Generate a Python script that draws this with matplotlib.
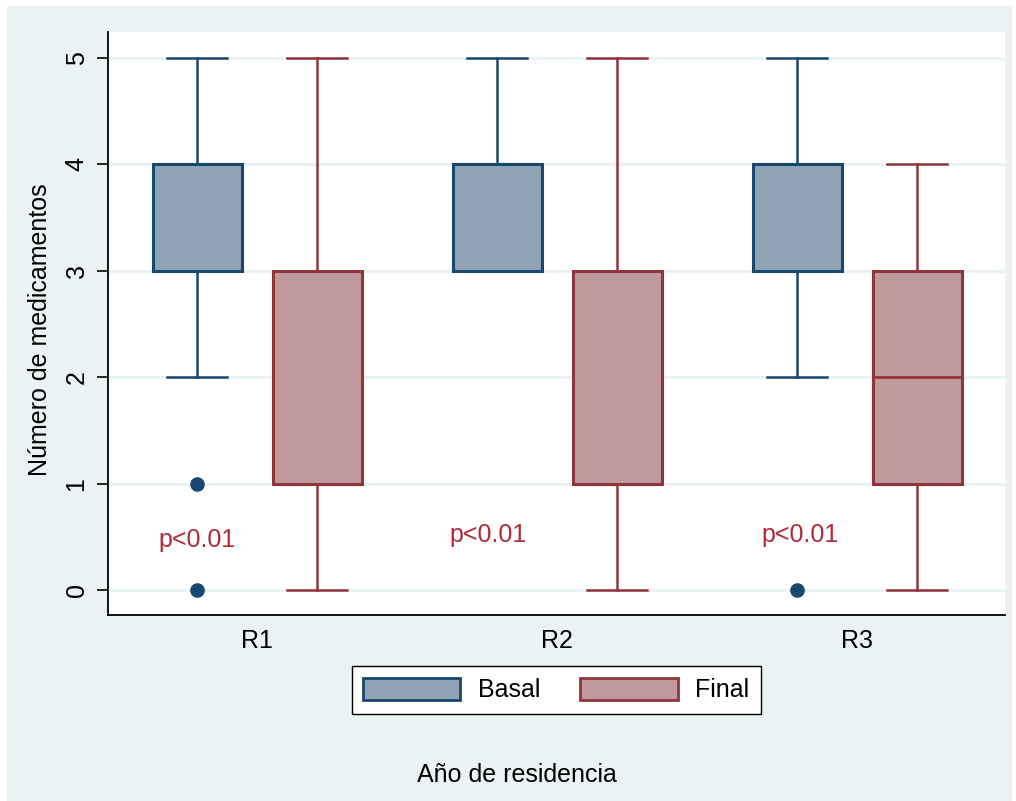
"""Boxplot: número de medicamentos por año de residencia (Basal vs Final)."""

import matplotlib
matplotlib.use('Agg')

import matplotlib.pyplot as plt
import matplotlib.patches as patches

# ── Data ──────────────────────────────────────────────────────────────────────
groups = ['R1', 'R2', 'R3']
series = ['Basal', 'Final']

basal_q1     = [3, 3, 3]
basal_med    = [4, 4, 4]
basal_q3     = [4, 4, 4]
basal_lo     = [2, 3, 2]
basal_hi     = [5, 5, 5]
basal_flier  = [[1, 0], [], [0]]

final_q1     = [1, 1, 1]
final_med    = [3, 3, 2]
final_q3     = [3, 3, 3]
final_lo     = [0, 0, 0]
final_hi     = [5, 5, 4]
final_flier  = [[], [], []]

p_text  = ['p<0.01', 'p<0.01', 'p<0.01']
p_y     = [0.47, 0.52, 0.52]
p_dx    = [-0.2, -0.23, -0.19]

# ── Style ─────────────────────────────────────────────────────────────────────
BG        = '#EAF2F3'
NAVY      = '#1A476F'
NAVY_FILL = '#90A3B5'
MAROON    = '#90353B'
MAR_FILL  = '#C09A9C'
P_COLOR   = '#B02A37'
FS        = 18

plt.rcParams['font.family'] = ['Liberation Sans', 'DejaVu Sans']

fig = plt.figure(figsize=(10.16, 8.01), dpi=100, facecolor='white')
# light background panel (white margin on top/left/right)
fig.patches.append(patches.Rectangle(
    (7 / 1016, 0), (1012 - 7) / 1016, (801 - 6) / 801,
    transform=fig.transFigure, facecolor=BG, edgecolor='none', zorder=-10))

ax = fig.add_axes([108 / 1016, 1 - 615 / 801, (1005 - 108) / 1016, (615 - 32) / 801])
ax.set_facecolor('white')


def make_stats(q1, med, q3, lo, hi, fl):
    return [dict(q1=a, med=b, q3=c, whislo=d, whishi=e, fliers=f)
            for a, b, c, d, e, f in zip(q1, med, q3, lo, hi, fl)]


pos = list(range(1, len(groups) + 1))
offset = 0.2
box_w = 0.297
cap_w = 0.2

for stats, dx, edge, fill in [
    (make_stats(basal_q1, basal_med, basal_q3, basal_lo, basal_hi, basal_flier), -offset, NAVY, NAVY_FILL),
    (make_stats(final_q1, final_med, final_q3, final_lo, final_hi, final_flier), offset, MAROON, MAR_FILL),
]:
    ax.bxp(stats, positions=[p + dx for p in pos], widths=box_w, capwidths=cap_w,
           patch_artist=True, manage_ticks=False,
           boxprops=dict(facecolor=fill, edgecolor=edge, linewidth=2.2),
           medianprops=dict(color=edge, linewidth=2.0),
           whiskerprops=dict(color=edge, linewidth=1.8),
           capprops=dict(color=edge, linewidth=1.8),
           flierprops=dict(marker='o', markerfacecolor=NAVY, markeredgecolor=NAVY,
                           markersize=9.5))

for p, t, y, dx in zip(pos, p_text, p_y, p_dx):
    ax.text(p + dx, y, t, color=P_COLOR, fontsize=FS, ha='center', va='center')

ax.set_xlim(0.503, 3.493)
ax.set_ylim(-0.235, 5.244)
ax.set_xticks(pos)
ax.set_xticklabels(groups, fontsize=FS)
ax.tick_params(axis='x', length=0, pad=10)
ax.set_yticks(range(0, 6))
ax.tick_params(axis='y', length=8, width=1.2, pad=6, labelsize=FS)
for lbl in ax.get_yticklabels():
    lbl.set_rotation(90)
    lbl.set_va('center')

ax.yaxis.grid(True, color=BG, linewidth=2.2)
ax.set_axisbelow(True)
for s in ['top', 'right']:
    ax.spines[s].set_visible(False)
for s in ['left', 'bottom']:
    ax.spines[s].set_linewidth(1.3)

fig.text(40 / 1016, 1 - 330 / 801, 'Número de medicamentos', rotation=90,
         fontsize=FS, ha='center', va='center')
fig.text(517 / 1016, 1 - 775 / 801, 'Año de residencia', fontsize=FS,
         ha='center', va='center')

handles = [patches.Patch(facecolor=NAVY_FILL, edgecolor=NAVY, linewidth=2, label=series[0]),
           patches.Patch(facecolor=MAR_FILL, edgecolor=MAROON, linewidth=2, label=series[1])]
fig.legend(handles=handles, loc='center', bbox_to_anchor=(556 / 1016, 1 - 690 / 801),
           ncol=2, fontsize=FS, frameon=True, fancybox=False, edgecolor='black',
           framealpha=1, handlelength=3.9, handleheight=1.0, columnspacing=1.6,
           handletextpad=0.7, borderpad=0.45)

fig.savefig('out.png', dpi=100, facecolor=fig.get_facecolor())
